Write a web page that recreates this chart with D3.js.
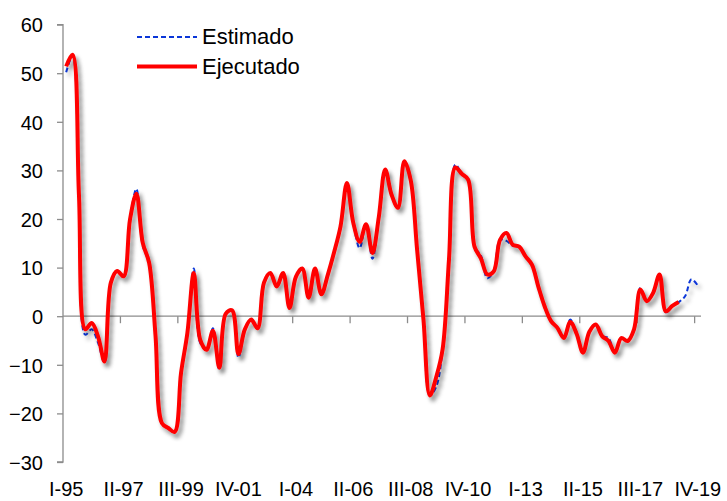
<!DOCTYPE html>
<html><head><meta charset="utf-8">
<script src="https://cdn.jsdelivr.net/npm/d3@7"></script>
<style>body{margin:0;background:#fff}svg{display:block}text{font-family:Arial,"Liberation Sans",sans-serif;fill:#000}</style>
</head><body>
<svg id="chart" width="727" height="501"></svg>
<script>
const romans = ["I","II","III","IV"];
const years = ["95","96","97","98","99","00","01","02","03","04","05","06","07","08","09","10","11","12","13","14","15","16","17","18","19"];
const quarters = [];
years.forEach(y => romans.forEach(r => quarters.push(r + "-" + y)));
const tickLabels = ["I-95","II-97","III-99","IV-01","I-04","II-06","III-08","IV-10","I-13","II-15","III-17","IV-19"];
const yTicks = [-30,-20,-10,0,10,20,30,40,50,60];

const ejecutado = [51.4,53.8,25,-2.7,-1.4,-4.2,-9.3,6.9,9.3,8.2,
  19.9,25.2,15.1,11,-4,-22,-23,-23.8,-11.7,-3.4,
  8.9,-4.8,-6.9,-3,-10.6,0.5,1.2,-7.8,-2.7,-0.7,
  -2.5,6.9,8.9,6.1,8.9,1.7,8.1,9.8,3.8,9.8,
  4.5,8.5,13.2,18.5,27.4,19.2,15.3,18.9,13,20.4,
  30.2,25,22.3,31.9,28,13.7,-0.7,-16.3,-12.5,-6.8,
  11.7,30.6,29.3,28.1,14.3,11.9,8.6,9.2,15.7,17.1,
  14.7,14.3,12.3,10.6,6.1,2,-1,-2.4,-4.5,-1.2,
  -3.6,-7.5,-3.2,-1.7,-4.1,-5.1,-7.5,-4.5,-5.1,-2.7,
  5.5,3.1,4.8,8.6,1.0,2.1,2.9];
const estimado = [50.2,53.6,25,-3.8,-2.7,-5.5,-9.6,6.9,9.3,8.2,
  19.9,26.2,14.5,11,-4,-22,-23,-23.8,-11.7,-3.4,
  9.8,-5.5,-6.9,-2.5,-11,0.5,1.2,-8.5,-2.7,-0.7,
  -2.5,6.9,8.9,6.1,8.9,1.7,8.1,9.8,3.8,9.8,
  4.5,8.5,13.2,18.5,27.4,19.2,14.0,18.9,11.8,20.4,
  30.2,25,22.3,31.9,28,13.7,-0.7,-16.3,-14.5,-6.8,
  11.7,31.2,29.3,28.1,14.3,12.5,7.8,9.2,15.7,15.5,
  14.5,14.3,12.3,10.6,6.1,2,-1,-2.4,-4.5,-0.7,
  -3.6,-7,-3.2,-1.7,-4.1,-4.5,-7.5,-4.5,-5.1,-2.7,
  5.8,3.1,4.8,8.6,0.8,2.1,2.9,4.1,7.6,6.3];

const svg = d3.select("#chart");
const x = d3.scaleBand().domain(quarters).range([63, 701]).paddingInner(0).paddingOuter(0);
const cx = q => x(q) + x.bandwidth() / 2;
const y = d3.scaleLinear().domain([-30, 60]).range([462, 24.6]);

const defs = svg.append("defs");
const f = defs.append("filter").attr("id","sh").attr("x","-10%").attr("y","-10%").attr("width","130%").attr("height","130%");
f.append("feDropShadow").attr("dx",3).attr("dy",4).attr("stdDeviation",2.2).attr("flood-color","#000").attr("flood-opacity",0.35);

const axisColor = "#8c8c8c";
// Y axis
const yAxis = svg.append("g").attr("transform","translate(63,0)")
  .call(d3.axisLeft(y).tickValues(yTicks).tickSize(6).tickPadding(14).tickFormat(d3.format("d")));
yAxis.select(".domain").attr("stroke",axisColor).attr("stroke-width",1.3).attr("d",`M-6,${y(60)}H0V${y(-30)}H-6`);
yAxis.selectAll(".tick line").attr("stroke",axisColor).attr("stroke-width",1.3);
yAxis.selectAll(".tick text").attr("font-size",20).attr("font-family","Arial,'Liberation Sans',sans-serif").attr("fill","#000").attr("dy","0.36em");

// X axis at zero
const xAxis = svg.append("g").attr("transform",`translate(0,${y(0)})`);
xAxis.append("line").attr("x1",63).attr("x2",701).attr("y1",0).attr("y2",0).attr("stroke",axisColor).attr("stroke-width",1.3);
xAxis.selectAll("line.tk").data(tickLabels.filter((d,i)=>i>0)).enter().append("line").attr("class","tk")
  .attr("x1",d=>x(d)).attr("x2",d=>x(d)).attr("y1",0).attr("y2",7).attr("stroke",axisColor).attr("stroke-width",1.3);
svg.append("g").selectAll("text").data(tickLabels).enter().append("text")
  .attr("x",d=>cx(d)).attr("y",496).attr("text-anchor","middle").attr("font-size",20).text(d=>d);

const line = d3.line().x((d,i)=>cx(quarters[i])).y(d=>y(d)).curve(d3.curveCatmullRom.alpha(0.5));

svg.append("path").datum(estimado).attr("d",line).attr("fill","none").attr("stroke","#0a36d8")
  .attr("stroke-width",2).attr("stroke-dasharray","5,3").attr("filter","url(#sh)");
svg.append("path").datum(ejecutado).attr("d",line).attr("fill","none").attr("stroke","#ff0000")
  .attr("stroke-width",4).attr("stroke-linejoin","round").attr("filter","url(#sh)");

// Legend
const lg = svg.append("g");
lg.append("line").attr("x1",137).attr("x2",197).attr("y1",37).attr("y2",37).attr("stroke","#0a36d8").attr("stroke-width",2).attr("stroke-dasharray","5,3");
lg.append("text").attr("x",202).attr("y",44).attr("font-size",22).text("Estimado");
lg.append("line").attr("x1",137).attr("x2",197).attr("y1",66.5).attr("y2",66.5).attr("stroke","#ff0000").attr("stroke-width",4);
lg.append("text").attr("x",202).attr("y",74).attr("font-size",22).text("Ejecutado");
</script>
</body></html>
